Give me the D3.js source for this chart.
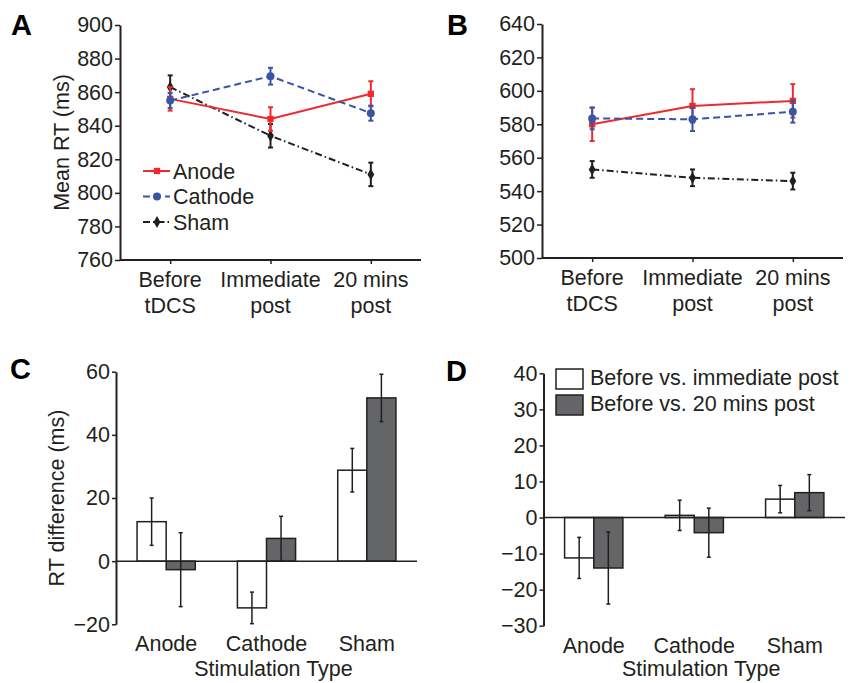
<!DOCTYPE html>
<html>
<head>
<meta charset="utf-8">
<script src="https://cdn.jsdelivr.net/npm/d3@7"></script>
<style>
  body { margin: 0; background: #fff; }
  svg text { font-family: "Liberation Sans", Arial, sans-serif; fill: #231f20; }
</style>
</head>
<body>
<div id="fig"></div>
<script>
// ---- data ----
const timeLabels = [["Before", "tDCS"], ["Immediate", "post"], ["20 mins", "post"]];
const timepoints = ["before", "immediate", "20min"];

// panel A (mean RT, ms)
const anodeA = [856, 844, 859];
const anodeAErr = [7, 7, 7.5];
const cathodeA = [855, 869.5, 847.5];
const cathodeAErr = [4.5, 5, 4.5];
const shamA = [863, 834, 811];
const shamAErr = [7, 7, 7];

// panel B (mean RT, ms)
const anodeB = [580, 591, 594];
const anodeBErr = [10, 10, 10];
const cathodeB = [583.5, 583, 587.5];
const cathodeBErr = [6.5, 7, 6.5];
const shamB = [553, 548, 546];
const shamBErr = [5, 5, 5];

// panels C and D (RT difference, ms)
const stimTypes = ["Anode", "Cathode", "Sham"];
const immC = [12.5, -14.8, 28.8];
const immCErr = [7.5, 5, 6.9];
const postC = [-2.7, 7.2, 51.7];
const postCErr = [11.7, 7, 7.5];
const immD = [-11.2, 0.6, 5.1];
const immDErr = [5.7, 4.2, 3.8];
const postD = [-14, -4.2, 6.9];
const postDErr = [10, 6.8, 5];

const ticksA = [760, 780, 800, 820, 840, 860, 880, 900];
const ticksB = [500, 520, 540, 560, 580, 600, 620, 640];
const ticksC = [-20, 0, 20, 40, 60];
const ticksD = [-30, -20, -10, 0, 10, 20, 30, 40];
const diffNames = ["Before vs. immediate post", "Before vs. 20 mins post"];

const ink = "#231f20";
const red = "#ee2a2e";
const blue = "#3a54a4";
const grey = "#646567";
const fs = "21.5px";

const svg = d3.select("#fig").append("svg")
  .attr("width", 856).attr("height", 683);

// panel letters
[["A", 11, 35], ["B", 447, 35], ["C", 10, 379], ["D", 446, 381]].forEach(([t, x, y]) => {
  svg.append("text").attr("x", x).attr("y", y).text(t)
    .style("font-size", "29px").style("font-weight", "bold").style("fill", "#000");
});

function styleAxis(g) {
  g.select(".domain").attr("stroke", ink).attr("stroke-width", 2);
  g.selectAll(".tick line").attr("stroke", ink).attr("stroke-width", 1.5);
  g.selectAll(".tick text").style("font-size", fs).attr("fill", ink)
    .style("font-family", "'Liberation Sans', Arial, sans-serif");
}

// ---------- line panels (A, B) ----------
function linePanel(opts) {
  const x = d3.scalePoint().domain(timepoints).range([opts.x0, opts.x1]).padding(0.5);
  const y = d3.scaleLinear().domain(opts.domain).range([opts.yBottom, opts.yTop]);

  svg.append("g")
    .attr("transform", `translate(${opts.x0},0)`)
    .call(d3.axisLeft(y).tickValues(opts.ticks).tickSize(5).tickSizeOuter(0).tickPadding(2))
    .call(styleAxis);

  const xa = svg.append("g")
    .attr("transform", `translate(0,${opts.yBottom})`)
    .call(d3.axisBottom(x).tickSize(4).tickSizeOuter(0).tickFormat(""))
    .call(styleAxis);
  xa.select(".domain").attr("d", `M${opts.x0},0H${opts.x1}`);

  timepoints.forEach((t, i) => {
    const lab = svg.append("text").attr("text-anchor", "middle")
      .attr("x", x(t)).attr("y", opts.yBottom + 27).style("font-size", fs);
    lab.append("tspan").attr("x", x(t)).text(timeLabels[i][0]);
    lab.append("tspan").attr("x", x(t)).attr("dy", 25.5).text(timeLabels[i][1]);
  });

  if (opts.ylabel) {
    svg.append("text")
      .attr("transform", `translate(${opts.ylabelX},${(opts.yTop + opts.yBottom) / 2}) rotate(-90)`)
      .attr("text-anchor", "middle").style("font-size", fs).text(opts.ylabel);
  }

  const series = [
    { vals: opts.sham, err: opts.shamErr, color: "#1f1f1f", dash: "7,3,1.5,3", shape: d3.symbolDiamond, size: 40 },
    { vals: opts.cathode, err: opts.cathodeErr, color: blue, dash: "7,4", shape: d3.symbolCircle, size: 50 },
    { vals: opts.anode, err: opts.anodeErr, color: red, dash: null, shape: d3.symbolSquare, size: 40 }
  ];
  const order = opts.order || [0, 1, 2];
  order.forEach(k => {
    const s = series[k];
    const pts = timepoints.map((t, i) => ({ t, v: s.vals[i], e: s.err[i] }));
    svg.append("path").datum(pts)
      .attr("fill", "none").attr("stroke", s.color).attr("stroke-width", 2)
      .attr("stroke-dasharray", s.dash)
      .attr("d", d3.line().x(d => x(d.t)).y(d => y(d.v)));
    const g = svg.append("g").selectAll("g").data(pts).join("g");
    g.append("line")
      .attr("x1", d => x(d.t)).attr("x2", d => x(d.t))
      .attr("y1", d => y(d.v - d.e)).attr("y2", d => y(d.v + d.e))
      .attr("stroke", s.color).attr("stroke-width", 2);
    [-1, 1].forEach(sg => {
      g.append("line")
        .attr("x1", d => x(d.t) - 2.5).attr("x2", d => x(d.t) + 2.5)
        .attr("y1", d => y(d.v + sg * d.e)).attr("y2", d => y(d.v + sg * d.e))
        .attr("stroke", s.color).attr("stroke-width", 2);
    });
    g.append("path")
      .attr("transform", d => `translate(${x(d.t)},${y(d.v)})`)
      .attr("d", d3.symbol(s.shape, s.size)).attr("fill", s.color);
  });
  return series;
}

const seriesA = linePanel({
  x0: 120, x1: 421, yTop: 25, yBottom: 260, domain: [760, 900], ticks: ticksA,
  anode: anodeA, anodeErr: anodeAErr, cathode: cathodeA, cathodeErr: cathodeAErr,
  sham: shamA, shamErr: shamAErr, ylabel: "Mean RT (ms)", ylabelX: 69, order: [0, 2, 1]
});

linePanel({
  x0: 542, x1: 843, yTop: 24, yBottom: 258, domain: [500, 640], ticks: ticksB,
  anode: anodeB, anodeErr: anodeBErr, cathode: cathodeB, cathodeErr: cathodeBErr,
  sham: shamB, shamErr: shamBErr, order: [0, 2, 1]
});

// legend for A
const legA = [
  { name: "Anode", s: seriesA[2] },
  { name: "Cathode", s: seriesA[1] },
  { name: "Sham", s: seriesA[0] }
];
legA.forEach((d, i) => {
  const yy = 171 + i * 25.5;
  svg.append("line").attr("x1", 143).attr("x2", 170).attr("y1", yy).attr("y2", yy)
    .attr("stroke", d.s.color).attr("stroke-width", 2).attr("stroke-dasharray", d.s.dash);
  svg.append("path").attr("transform", `translate(157,${yy})`)
    .attr("d", d3.symbol(d.s.shape, d.s.size)).attr("fill", d.s.color);
  svg.append("text").attr("x", 173).attr("y", yy + 7.5).style("font-size", fs).text(d.name);
});

// ---------- bar panels (C, D) ----------
function barPanel(opts) {
  const x = d3.scaleBand().domain(stimTypes).range([opts.x0, opts.x1])
    .paddingInner(0.42).paddingOuter(0.21);
  const xs = d3.scaleBand().domain([0, 1]).range([0, x.bandwidth()]);
  const y = d3.scaleLinear().domain(opts.domain).range([opts.yBottom, opts.yTop]);

  svg.append("g")
    .attr("transform", `translate(${opts.x0},0)`)
    .call(d3.axisLeft(y).tickValues(opts.ticks).tickSize(4).tickSizeOuter(0).tickPadding(2))
    .call(styleAxis);

  const rows = [
    { vals: opts.imm, err: opts.immErr, fill: "#fff" },
    { vals: opts.post, err: opts.postErr, fill: grey }
  ];
  rows.forEach((r, k) => {
    const pts = stimTypes.map((c, i) => ({ c, v: r.vals[i], e: r.err[i] }));
    const g = svg.append("g").selectAll("g").data(pts).join("g");
    g.append("rect")
      .attr("x", d => x(d.c) + xs(k)).attr("width", xs.bandwidth())
      .attr("y", d => y(Math.max(0, d.v))).attr("height", d => Math.abs(y(d.v) - y(0)))
      .attr("fill", r.fill).attr("stroke", ink).attr("stroke-width", 1.5);
    const cx = d => x(d.c) + xs(k) + xs.bandwidth() / 2;
    g.append("line").attr("x1", cx).attr("x2", cx)
      .attr("y1", d => y(d.v - d.e)).attr("y2", d => y(d.v + d.e))
      .attr("stroke", ink).attr("stroke-width", 1.5);
    [-1, 1].forEach(sg => {
      g.append("line").attr("x1", d => cx(d) - 2).attr("x2", d => cx(d) + 2)
        .attr("y1", d => y(d.v + sg * d.e)).attr("y2", d => y(d.v + sg * d.e))
        .attr("stroke", ink).attr("stroke-width", 1.5);
    });
  });

  // zero line
  svg.append("line").attr("x1", opts.x0).attr("x2", opts.x1)
    .attr("y1", y(0)).attr("y2", y(0)).attr("stroke", ink).attr("stroke-width", 1.5);

  stimTypes.forEach(c => {
    svg.append("text").attr("text-anchor", "middle")
      .attr("x", x(c) + x.bandwidth() / 2).attr("y", opts.yBottom + 27)
      .style("font-size", fs).text(c);
  });
  svg.append("text").attr("text-anchor", "middle")
    .attr("x", (opts.x0 + opts.x1) / 2 + 7).attr("y", 676)
    .style("font-size", fs).text("Stimulation Type");

  if (opts.ylabel) {
    svg.append("text")
      .attr("transform", `translate(${opts.ylabelX},${(opts.yTop + opts.yBottom) / 2}) rotate(-90)`)
      .attr("text-anchor", "middle").style("font-size", fs).text(opts.ylabel);
  }
  return rows;
}

barPanel({
  x0: 116, x1: 417, yTop: 371.7, yBottom: 624.3, domain: [-20, 60], ticks: ticksC,
  imm: immC, immErr: immCErr, post: postC, postErr: postCErr,
  ylabel: "RT difference (ms)", ylabelX: 64
});

const rowsD = barPanel({
  x0: 543.5, x1: 845, yTop: 373.3, yBottom: 625.7, domain: [-30, 40], ticks: ticksD,
  imm: immD, immErr: immDErr, post: postD, postErr: postDErr
});

// legend for D
diffNames.forEach((n, i) => {
  const yy = 369 + i * 26;
  svg.append("rect").attr("x", 556).attr("y", yy).attr("width", 27).attr("height", 20)
    .attr("fill", rowsD[i].fill).attr("stroke", ink).attr("stroke-width", 1.5);
  svg.append("text").attr("x", 590).attr("y", yy + 15.5).style("font-size", fs).text(n);
});
</script>
</body>
</html>
